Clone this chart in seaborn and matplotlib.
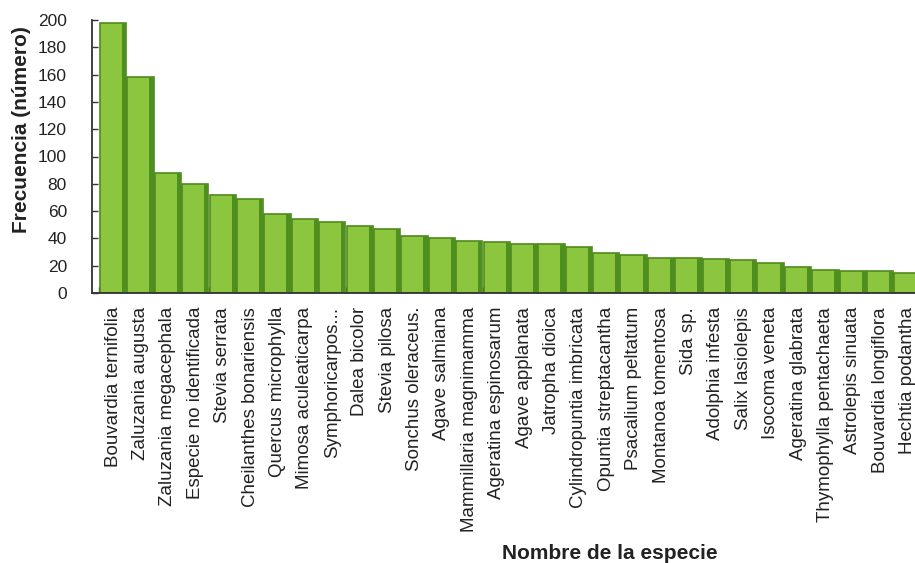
import matplotlib
matplotlib.use("Agg")
import matplotlib.pyplot as plt
from matplotlib.patches import Rectangle
from matplotlib.ticker import FixedLocator
import seaborn as sns
import pandas as pd
import numpy as np

especies = [
    "Bouvardia ternifolia", "Zaluzania augusta", "Zaluzania megacephala",
    "Especie no identificada", "Stevia serrata", "Cheilanthes bonariensis",
    "Quercus microphylla", "Mimosa aculeaticarpa", "Symphoricarpos...",
    "Dalea bicolor", "Stevia pilosa", "Sonchus oleraceus.", "Agave salmiana",
    "Mammillaria magnimamma", "Ageratina espinosarum", "Agave applanata",
    "Jatropha dioica", "Cylindropuntia imbricata", "Opuntia streptacantha",
    "Psacalium peltatum", "Montanoa tomentosa", "Sida sp.", "Adolphia infesta",
    "Salix lasiolepis", "Isocoma veneta", "Ageratina glabrata",
    "Thymophylla pentachaeta", "Astrolepis sinuata", "Bouvardia longiflora",
    "Hechtia podantha",
]
frecuencia = [198, 158, 88, 80, 72, 69, 58, 54, 52, 49, 47, 42, 40, 38, 37,
              36, 36, 34, 29, 28, 26, 26, 25, 24, 22, 19, 17, 16, 16, 15]
y_ticks = [0, 20, 40, 60, 80, 100, 120, 140, 160, 180, 200]

df = pd.DataFrame({"especie": especies, "frecuencia": frecuencia})

sns.set_style("white")
plt.rcParams["font.family"] = ["Liberation Sans", "DejaVu Sans"]

fig = plt.figure(figsize=(9.15, 5.63), dpi=100)
ax = fig.add_axes([92 / 915, 270 / 563, 823 / 915, 273 / 563])

sns.barplot(data=df, x="especie", y="frecuencia", color="#8cc63f",
            saturation=1, width=0.96, edgecolor="#4e8a1c", linewidth=1.2, ax=ax)

# darker right side for a 3D look, derived from the drawn bars
for p in list(ax.patches):
    x, w, h = p.get_x(), p.get_width(), p.get_height()
    ax.add_patch(Rectangle((x + w * 0.84, 0), w * 0.16, h,
                           facecolor="#4f8f1f", edgecolor="none", zorder=p.get_zorder() + 0.1))

ax.set_ylim(0, 200)
ax.set_xlim(-0.77, 29.27)
ax.set_yticks(y_ticks)
ax.set_yticklabels([str(t) for t in y_ticks], fontsize=12.5, color="#222222")
ax.set_xticks(range(len(especies)))
ax.set_xticklabels(especies, rotation=90, fontsize=13.5, color="#222222")
ax.xaxis.set_minor_locator(FixedLocator(np.arange(-0.5, len(especies), 1.0)))

ax.tick_params(axis="y", direction="in", length=4, width=1, pad=18, left=True, color="#333333")
ax.tick_params(axis="x", which="major", length=0, pad=10)
ax.tick_params(axis="x", which="minor", direction="in", length=4, width=1, bottom=True, color="#333333")

for s in ["top", "right"]:
    ax.spines[s].set_visible(False)
for s in ["left", "bottom"]:
    ax.spines[s].set_color("#333333")
    ax.spines[s].set_linewidth(1.3)

ax.set_ylabel("Frecuencia (número)", fontsize=15, fontweight="bold", color="#222222")
ax.yaxis.set_label_coords(-0.074, 0.597)
ax.set_xlabel("Nombre de la especie", fontsize=15, fontweight="bold", color="#222222")
ax.xaxis.set_label_coords(0.629, -0.92)

fig.savefig("out.png", dpi=100)
